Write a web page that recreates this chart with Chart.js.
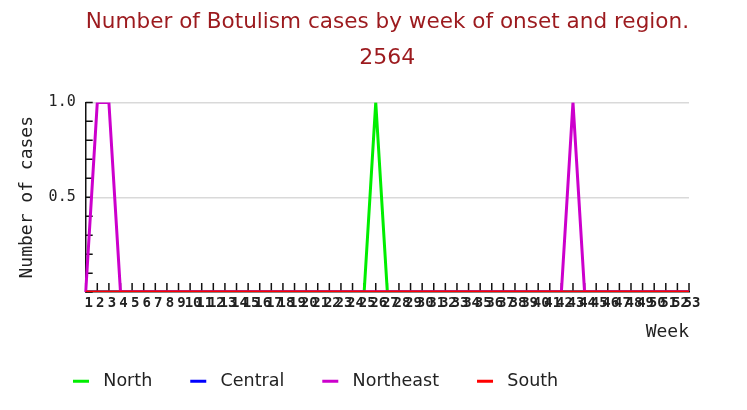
<!DOCTYPE html>
<html>
<head>
<meta charset="utf-8">
<script src="https://cdn.jsdelivr.net/npm/chart.js@4/dist/chart.umd.min.js"></script>
<style>
  html, body { margin:0; padding:0; background:#fff; }
  #wrap { width:747px; height:410px; position:relative; }
</style>
</head>
<body>
<div id="wrap"><canvas id="botChart"></canvas></div>
<script>
// data
const weeks = ['1','2','3','4','5','6','7','8','9','10','11','12','13','14','15','16','17','18','19','20',
  '21','22','23','24','25','26','27','28','29','30','31','32','33','34','35','36','37','38','39','40',
  '41','42','43','44','45','46','47','48','49','50','51','52','53'];
const north     = [0,0,0,0,0,0,0,0,0,0, 0,0,0,0,0,0,0,0,0,0, 0,0,0,0,0,1,0,0,0,0, 0,0,0,0,0,0,0,0,0,0, 0,0,0,0,0,0,0,0,0,0, 0,0,0];
const central   = [0,0,0,0,0,0,0,0,0,0, 0,0,0,0,0,0,0,0,0,0, 0,0,0,0,0,0,0,0,0,0, 0,0,0,0,0,0,0,0,0,0, 0,0,0,0,0,0,0,0,0,0, 0,0,0];
const northeast = [0,1,1,0,0,0,0,0,0,0, 0,0,0,0,0,0,0,0,0,0, 0,0,0,0,0,0,0,0,0,0, 0,0,0,0,0,0,0,0,0,0, 0,0,1,0,0,0,0,0,0,0, 0,0,0];
const south     = [0,0,0,0,0,0,0,0,0,0, 0,0,0,0,0,0,0,0,0,0, 0,0,0,0,0,0,0,0,0,0, 0,0,0,0,0,0,0,0,0,0, 0,0,0,0,0,0,0,0,0,0, 0,0,0];
const yLabelled = [0.5, 1.0];

const near = (v, list)=> list.some(t=>Math.abs(v - t) < 1e-6);

// small tick marks drawn inside the plot area, like the original
const innerTicks = {
  id: 'innerTicks',
  beforeDatasetsDraw(chart){
    const {ctx, chartArea, scales:{x, y}} = chart;
    ctx.save();
    ctx.strokeStyle = '#111';
    ctx.lineWidth = 1.5;
    ctx.beginPath();
    y.ticks.forEach((t,i)=>{ const py = y.getPixelForTick(i); ctx.moveTo(chartArea.left, py); ctx.lineTo(chartArea.left + 7, py); });
    x.ticks.forEach((t,i)=>{ const px = x.getPixelForTick(i); ctx.moveTo(px, chartArea.bottom); ctx.lineTo(px, chartArea.bottom - 9); });
    ctx.stroke();
    ctx.restore();
  }
};

const mk = (label, data, color, order)=>({label, data, borderColor:color, backgroundColor:color, borderWidth:3, pointRadius:0, tension:0, order});

new Chart(document.getElementById('botChart'), {
  type: 'line',
  data: {
    labels: weeks,
    datasets: [
      mk('North', north, '#00ee00', 3),
      mk('Central', central, '#0000ff', 2),
      mk('Northeast', northeast, '#cc00cc', 1),
      mk('South', south, '#ff0000', 0)
    ]
  },
  options: {
    responsive: true,
    maintainAspectRatio: false,
    animation: false,
    layout: { padding: { left: 35, right: 58, top: 0, bottom: 10 } },
    plugins: {
      tooltip: { enabled: false },
      title: {
        display: true,
        fullSize: false,
        text: ['Number of Botulism cases by week of onset and region.', '2564'],
        color: '#9c1a1e',
        font: { family: 'DejaVu Sans', size: 22, weight: 'normal', lineHeight: 1.6 },
        padding: { top: 5, bottom: 27 }
      },
      legend: {
        position: 'bottom',
        align: 'start',
        labels: {
          font: { family: 'DejaVu Sans', size: 17.5 },
          color: '#222',
          boxWidth: 16,
          boxHeight: 3,
          padding: 38,
          sort: (a,b)=>a.datasetIndex - b.datasetIndex,
          generateLabels(chart){
            return chart.data.datasets.map((ds,i)=>({
              text: ' ' + ds.label, fillStyle: ds.borderColor, strokeStyle: ds.borderColor,
              lineWidth: 0, hidden: false, datasetIndex: i, fontColor: '#222'
            }));
          }
        }
      }
    },
    scales: {
      x: {
        type: 'category',
        offset: false,
        grid: { display: false, drawTicks: false },
        border: { display: true, color: '#111', width: 1.5 },
        ticks: {
          autoSkip: false, maxRotation: 0, minRotation: 0, padding: 3, labelOffset: 3,
          color: '#222', font: { family: 'DejaVu Sans Mono', size: 14, weight: 'bold' }
        },
        title: {
          display: true, text: 'Week', align: 'end', color: '#222',
          font: { family: 'DejaVu Sans Mono', size: 18 },
          padding: { top: 7, bottom: -9 }
        }
      },
      y: {
        min: 0, max: 1,
        grid: {
          drawTicks: false,
          lineWidth: 1.5,
          color: c => (c.tick && near(c.tick.value, yLabelled)) ? '#d9d9d9' : 'rgba(0,0,0,0)'
        },
        border: { display: true, color: '#111', width: 1.5 },
        ticks: {
          stepSize: 0.1, autoSkip: false, padding: 10, color: '#222',
          font: { family: 'DejaVu Sans Mono', size: 15 },
          callback: v => near(v, yLabelled) ? Number(v).toFixed(1) : ''
        },
        title: {
          display: true, text: 'Number of cases', color: '#222',
          font: { family: 'DejaVu Sans Mono', size: 18 },
          padding: { top: -18, bottom: 0 }
        }
      }
    }
  },
  plugins: [innerTicks]
});
</script>
</body>
</html>
